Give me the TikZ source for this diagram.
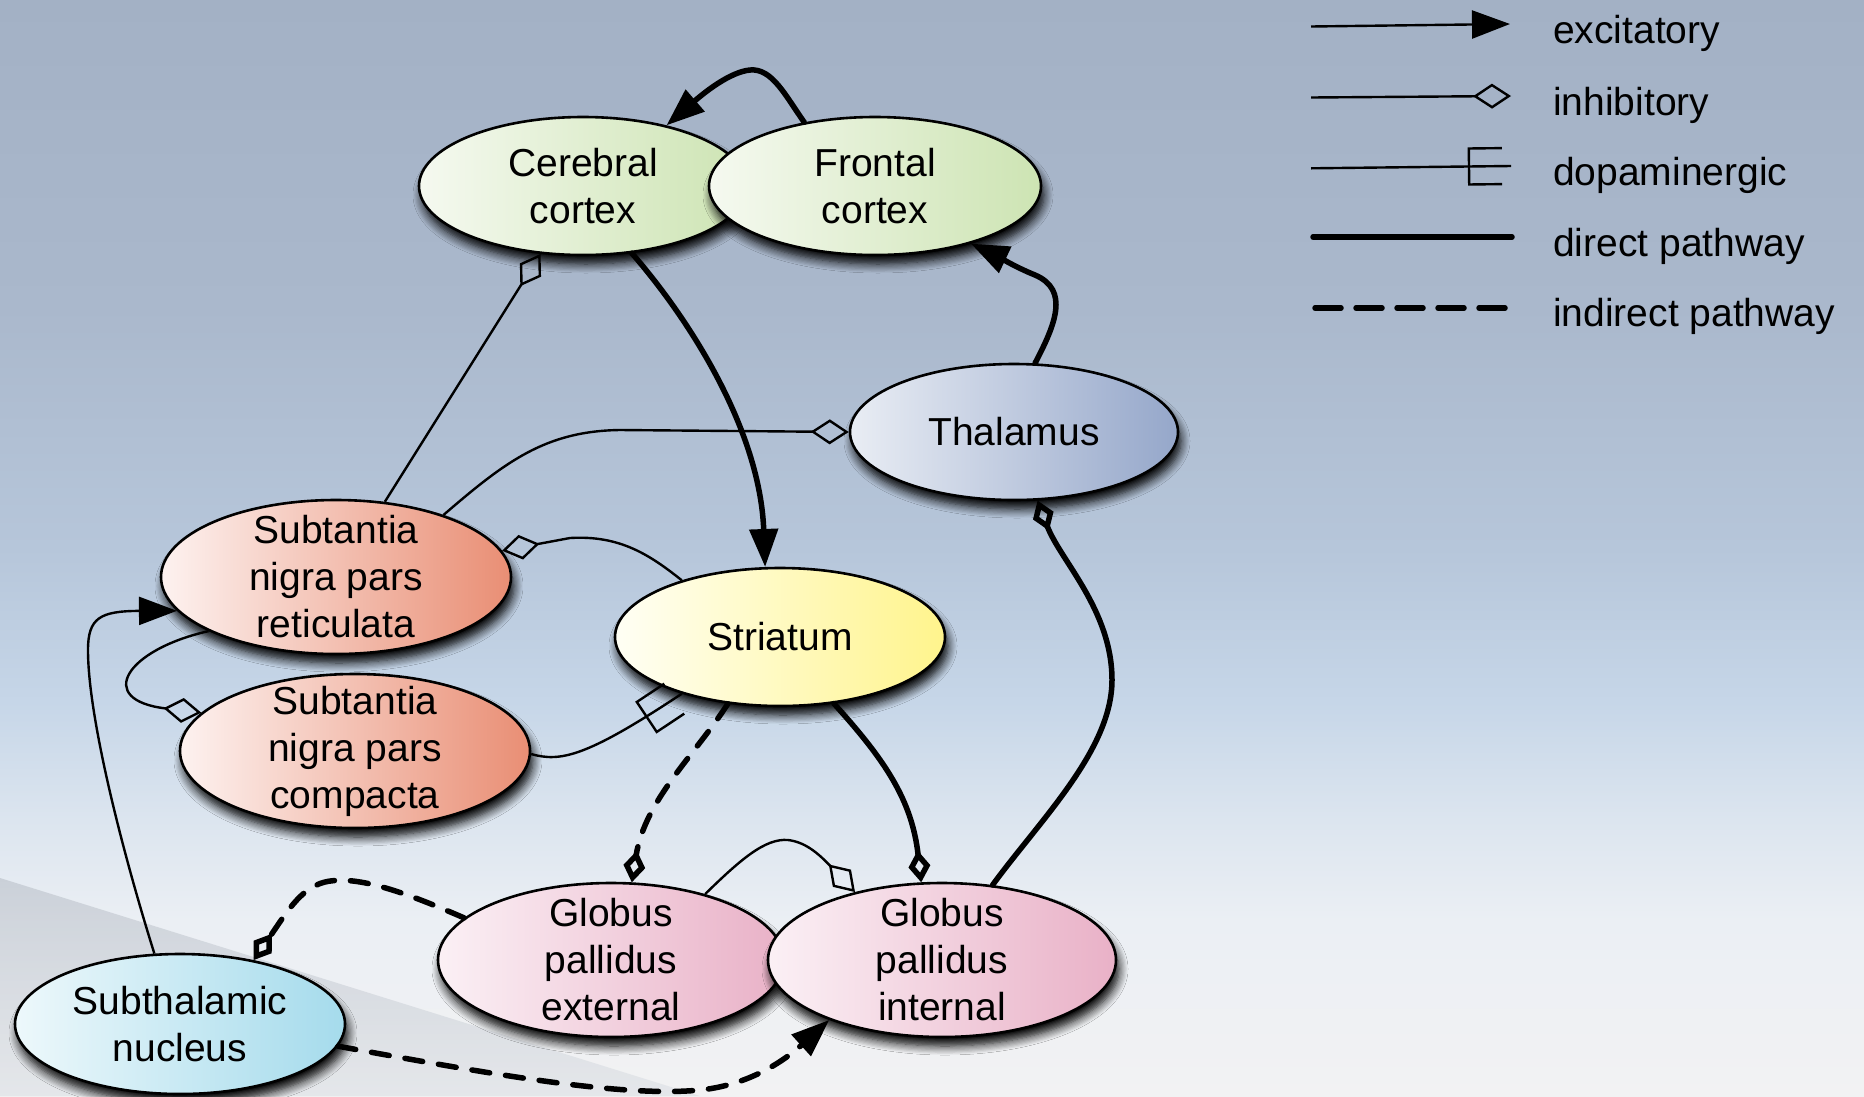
\documentclass[tikz,border=0pt]{standalone}
\usepackage{fontspec}
\setmainfont{Liberation Sans}
\usetikzlibrary{arrows.meta,shapes.geometric,decorations.markings,shadows.blur}

% sky backdrop
\definecolor{sky0}{HTML}{A3B1C5}
\definecolor{sky1}{HTML}{AAB8CC}
\definecolor{sky2}{HTML}{B6C6DA}
\definecolor{sky3}{HTML}{C6D6E8}
\definecolor{sky4}{HTML}{DCE5EF}
\definecolor{sky5}{HTML}{EBEFF4}
\definecolor{sky6}{HTML}{F2F2F3}
\definecolor{wingA}{HTML}{B9BFC8}
\definecolor{wingB}{HTML}{DCE0E5}
% region fills
\definecolor{grnL}{HTML}{F5F9F0}\definecolor{grnR}{HTML}{CDE4B3}
\definecolor{thaL}{HTML}{E9EDF4}\definecolor{thaR}{HTML}{95A7CA}
\definecolor{strL}{HTML}{FFFFF5}\definecolor{strR}{HTML}{FFF48C}
\definecolor{salL}{HTML}{FDF2F0}\definecolor{salR}{HTML}{E98E74}
\definecolor{pnkL}{HTML}{FBF0F5}\definecolor{pnkR}{HTML}{E9B1C7}
\definecolor{cyaL}{HTML}{EDF8FB}\definecolor{cyaR}{HTML}{A5DBEC}

\pgfdeclareverticalshading{skybg}{100bp}{color(0bp)=(sky6); color(25bp)=(sky6);
  color(33bp)=(sky5); color(37.6bp)=(sky4); color(43bp)=(sky3); color(50bp)=(sky2);
  color(61bp)=(sky1); color(75bp)=(sky0); color(100bp)=(sky0)}

\tikzset{
  region/.style={ellipse, draw=black, line width=2.6pt, inner sep=-60pt, align=center,
    font=\fontsize{39}{47}\selectfont,
    blur shadow={shadow xshift=3pt, shadow yshift=-9pt, shadow blur radius=9pt,
      shadow blur steps=8, shadow opacity=100}},
  green/.style={region, left color=grnL, right color=grnR},
  thal/.style={region, left color=thaL, right color=thaR},
  stri/.style={region, left color=strL, right color=strR},
  salm/.style={region, left color=salL, right color=salR},
  pink/.style={region, left color=pnkL, right color=pnkR},
  cyan/.style={region, left color=cyaL, right color=cyaR},
  legtext/.style={anchor=base west, inner sep=0pt, font=\fontsize{39}{47}\selectfont},
  pthin/.style={line width=2.4pt},
  pthick/.style={line width=5.5pt, line cap=round},
  pdash/.style={line width=5.5pt, line cap=round, dash pattern=on 18pt off 16pt},
  exc/.style={-{Triangle[length=38pt,width=28pt]}},
  inh/.style={-{Diamond[open,length=38pt,width=25pt]}},
  inhb/.style={-{Diamond[open,length=32pt,width=22pt]}},
  dopa/.style={postaction={decorate, decoration={markings, mark=at position 1 with {
      \draw[line width=2.4pt, solid, line join=miter]
        (-9pt,18pt) -- (-42pt,18pt) -- (-42pt,-18pt) -- (-9pt,-18pt);}}}}
}

\begin{document}
\begin{tikzpicture}[x=1pt, y=-1pt]
\useasboundingbox (0,0) rectangle (1864,1096);
\shade[shading=skybg] (0,0) rectangle (1864,1096);
\shade[top color=wingA, bottom color=wingB, opacity=.6] (0,878) -- (700,1096) -- (0,1096) -- cycle;

% regions
\node[green, minimum width=328pt, minimum height=138pt] (cc) at (583,186) {Cerebral\\cortex};
\node[green, minimum width=332pt, minimum height=138pt] (fc) at (875,186) {Frontal\\cortex};
\node[thal, minimum width=328pt, minimum height=136pt] (th) at (1014,432) {Thalamus};
\node[stri, minimum width=330pt, minimum height=138pt] (st) at (780,637) {Striatum};
\node[salm, minimum width=350pt, minimum height=154pt] (snr) at (336,577) {Subtantia\\nigra pars\\reticulata};
\node[salm, minimum width=350pt, minimum height=154pt] (snc) at (355,751) {Subtantia\\nigra pars\\compacta};
\node[pink, minimum width=346pt, minimum height=154pt] (gpe) at (611,960) {Globus\\pallidus\\external};
\node[pink, minimum width=348pt, minimum height=154pt] (gpi) at (942,960) {Globus\\pallidus\\internal};
\node[cyan, minimum width=330pt, minimum height=140pt] (stn) at (180,1024) {Subthalamic\\nucleus};

% cortical and thalamic loop
\draw[pthick, exc] (fc.138) .. controls (785,95) and (772,68) .. (750,70) .. controls (730,72) and (705,92) .. (cc.36);
\draw[pthick, exc] (cc.-54) .. controls (690,320) and (760,430) .. (st.102);
\draw[pthick, exc] (th.73) .. controls (1055,325) and (1070,290) .. (1035,275) .. controls (1015,267) and (995,255) .. (fc.-31);

% nigral connections
\draw[pthin, inh] (snr.57) -- (cc.238);
\draw[pthin, inh] (snr.30) .. controls (505,462) and (545,431) .. (620,430) -- (th.180);
\draw[pthin, inh] (st.150) .. controls (650,555) and (620,535) .. (570,538) -- (snr.9);
\draw[pthin, inh] (snr.203) .. controls (125,650) and (95,700) .. (snc.166);
\draw[pthin, dopa] (snc.-1) .. controls (560,762) and (585,758) .. (st.210);

% direct pathway
\draw[pthick, inhb] (st.-51) .. controls (885,760) and (912,800) .. (gpi.105);
\draw[pthick, inhb] (gpi.56) .. controls (1040,820) and (1112,750) .. (1112,680) .. controls (1112,610) and (1060,560) .. (th.-71);

% indirect pathway
\draw[pdash, inhb] (st.232) .. controls (695,755) and (645,800) .. (gpe.75);
\draw[pthin, inh] (gpe.35) .. controls (740,860) and (765,838) .. (788,840) .. controls (805,842) and (818,853) .. (gpi.142);
\draw[pthin, exc] (stn.110) .. controls (125,860) and (88,720) .. (88,650) .. controls (88,618) and (100,611) .. (snr.192);
\draw[pdash, inhb] (gpe.164) .. controls (400,890) and (355,875) .. (325,882) .. controls (300,888) and (285,915) .. (stn.41);
\draw[pdash, exc] (stn.-8) .. controls (480,1072) and (620,1098) .. (700,1090) .. controls (750,1085) and (785,1060) .. (gpi.208);

% legend
\coordinate (la1) at (1311,26.5); \coordinate (la2) at (1510,24);
\coordinate (lb1) at (1311,97.5); \coordinate (lb2) at (1511,96);
\coordinate (lc1) at (1311,168.3); \coordinate (lc2) at (1511,166);
\coordinate (ld1) at (1313,237); \coordinate (ld2) at (1512,237);
\coordinate (le1) at (1315,308); \coordinate (le2) at (1510,308);
\draw[pthin, exc] (la1) -- (la2);
\draw[pthin, inh] (lb1) -- (lb2);
\draw[pthin, dopa] (lc1) -- (lc2);
\draw[pthick] (ld1) -- (ld2);
\draw[pdash, dash pattern=on 26pt off 15pt] (le1) -- (le2);
\node[legtext] (lt1) at (1553,43) {excitatory};
\node[legtext] (lt2) at (1553,115) {inhibitory};
\node[legtext] (lt3) at (1553,185) {dopaminergic};
\node[legtext] (lt4) at (1553,256) {direct pathway};
\node[legtext] (lt5) at (1553,326) {indirect pathway};
\end{tikzpicture}
\end{document}
